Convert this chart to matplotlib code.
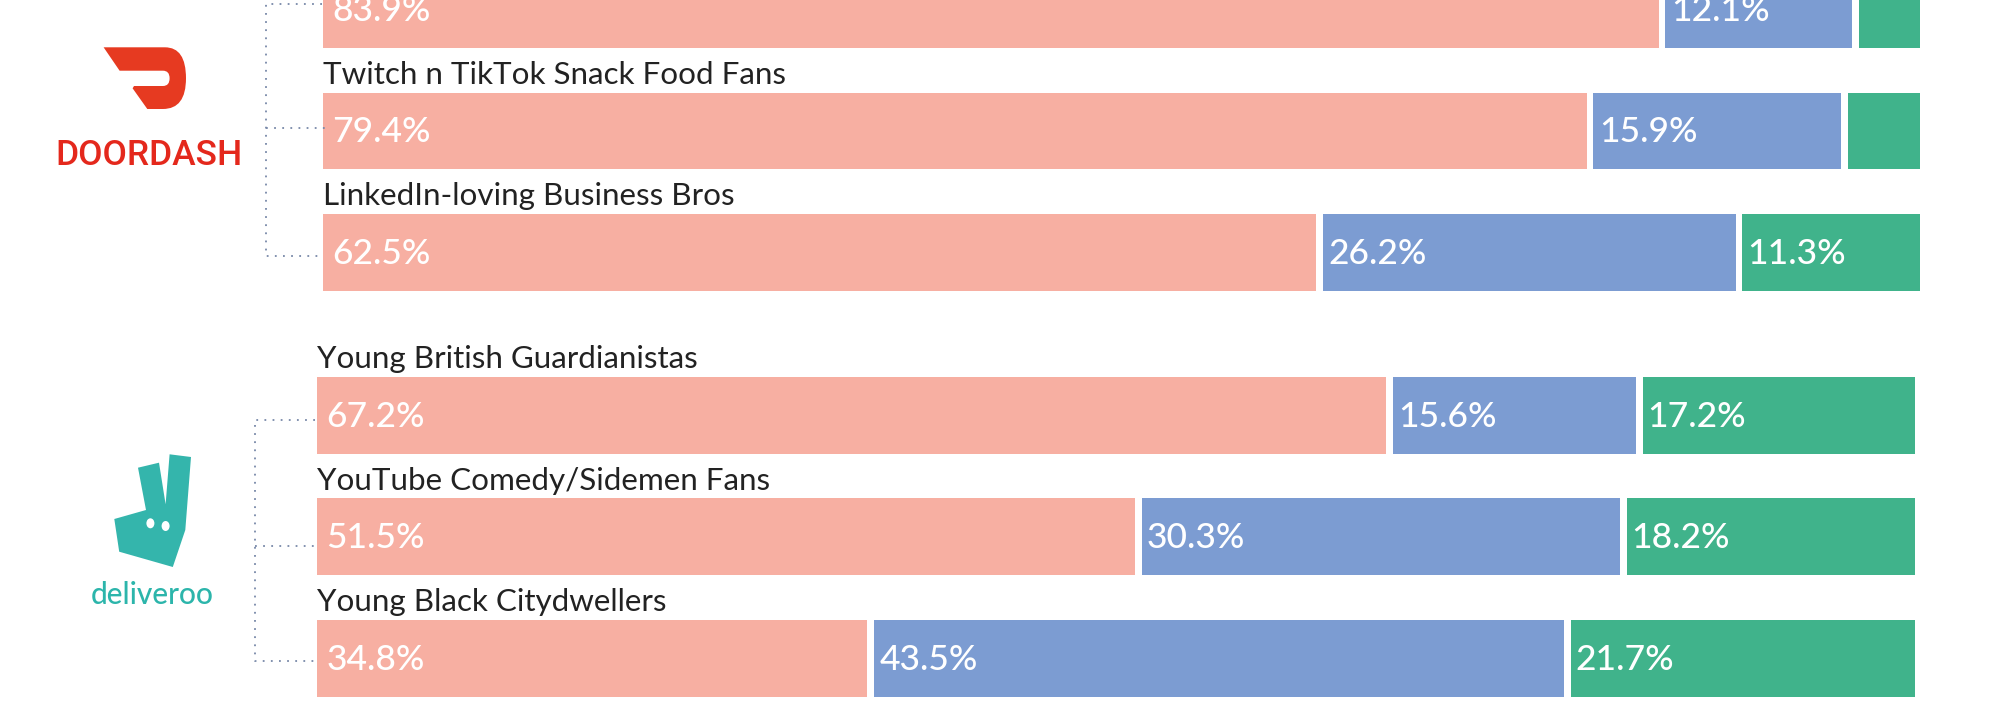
import numpy as np
import matplotlib
matplotlib.use('Agg')
import matplotlib.pyplot as plt
from matplotlib.path import Path
from matplotlib.patches import PathPatch, Polygon, Ellipse

plt.rcParams['font.family'] = ['Lato', 'DejaVu Sans']

W, H = 1998, 715

doordash_names = ['', 'Twitch n TikTok Snack Food Fans', 'LinkedIn-loving Business Bros']
doordash_a = [83.9, 79.4, 62.5]
doordash_b = [12.1, 15.9, 26.2]
doordash_c = [4.0, 4.7, 11.3]

deliveroo_names = ['Young British Guardianistas', 'YouTube Comedy/Sidemen Fans', 'Young Black Citydwellers']
deliveroo_a = [67.2, 51.5, 34.8]
deliveroo_b = [15.6, 30.3, 43.5]
deliveroo_c = [17.2, 18.2, 21.7]

colors = ['#F7AFA2', '#7C9CD2', '#40B38B']
text_off = [9.5, 5.5, 4.5]
gap = 0.21   # half the white gap, in percent
min_label = 5


def group_axes(x0, x100, row0_y, pitch=121.4):
    # axes in percent / row units, placed by pixel position of the group
    top = row0_y - pitch / 2
    ax = fig.add_axes([x0 / W, 1 - (top + 3 * pitch) / H, (x100 - x0) / W, 3 * pitch / H])
    ax.set_xlim(0, 100)
    ax.set_ylim(2.5, -0.5)
    ax.axis('off')
    return ax


def stacked(ax, names, a, b, c, height=0.632):
    rows = np.arange(len(names))
    segs = [np.array(a), np.array(b), np.array(c)]
    left = np.zeros(len(names))
    for i, vals in enumerate(segs):
        start = left + gap
        end = left + vals - gap
        if i == 2:
            end = left + vals
        ax.barh(rows, end - start, left=start, height=height, color=colors[i], edgecolor='none')
        for r in rows:
            if vals[r] > min_label:
                ax.annotate(f'{vals[r]:.1f}%', (start[r], r), xytext=(text_off[i] * 0.72, -1),
                            textcoords='offset points', va='center', ha='left', fontweight='medium',
                            color='white', fontsize=25.5, annotation_clip=False)
        left = left + vals
    for r in rows:
        if names[r]:
            ax.annotate(names[r], (gap, r - height / 2), xytext=(0, 6.3), textcoords='offset points',
                        va='baseline', ha='left', color='#222222', fontsize=22.6)


fig = plt.figure(figsize=(W / 100, H / 100), dpi=100, facecolor='white')

ax_top = group_axes(319.3, 1919.8, 9.7)
ax_bot = group_axes(313.3, 1915.0, 415.4)
stacked(ax_top, doordash_names, doordash_a, doordash_b, doordash_c)
stacked(ax_bot, deliveroo_names, deliveroo_a, deliveroo_b, deliveroo_c)

# overlay in picture pixels for logos and the dotted brackets
over = fig.add_axes([0, 0, 1, 1], facecolor='none')
over.set_xlim(0, W)
over.set_ylim(H, 0)
over.axis('off')

dots = dict(color='#7788A8', lw=1.3, linestyle=(0, (1, 3.5)))
over.plot([322, 265.6, 265.6, 322], [3.5, 3.5, 256, 256], **dots)
over.plot([265.6, 327], [128.3, 128.3], **dots)
over.plot([315, 254.5, 254.5, 315], [420, 420, 661, 661], **dots)
over.plot([254.5, 317], [545.7, 545.7], **dots)

# doordash mark
dd_verts = [(103.6, 47.3), (165, 47.3), (186, 47.3), (186, 78.3), (186, 109), (163, 109),
            (147.3, 109), (132.6, 88.3), (134, 86), (163, 86), (169.6, 86), (169.6, 78.3),
            (169.6, 70.7), (163, 70.7), (119.6, 70.7), (103.6, 47.3)]
dd_codes = [Path.MOVETO, Path.LINETO, Path.CURVE3, Path.CURVE3, Path.CURVE3, Path.CURVE3,
            Path.LINETO, Path.LINETO, Path.LINETO, Path.LINETO, Path.CURVE3, Path.CURVE3,
            Path.CURVE3, Path.CURVE3, Path.LINETO, Path.CLOSEPOLY]
over.add_patch(PathPatch(Path(dd_verts, dd_codes), facecolor='#E63A21', edgecolor='none'))
over.text(149.5, 165, 'DOORDASH', color='#E4281C', ha='center', va='baseline',
          fontsize=25.5, fontweight='medium', family=['Roboto', 'DejaVu Sans'])

# deliveroo mark
roo = [(169.6, 454.3), (191, 457), (185.3, 530), (172.8, 567), (119.2, 551.7), (114.3, 519),
       (146, 510), (138, 467.7), (159, 462.7), (165.6, 504.3)]
over.add_patch(Polygon(roo, closed=True, facecolor='#34B5AC', edgecolor='none'))
over.add_patch(Ellipse((150.4, 523.3), 8, 10, facecolor='white', edgecolor='none'))
over.add_patch(Ellipse((165.6, 526), 8, 10, facecolor='white', edgecolor='none'))
over.text(152.5, 604, 'deliveroo', color='#2CB5AB', ha='center', va='baseline',
          fontsize=21.5, fontweight='medium')

fig.savefig('out.png', dpi=100)
